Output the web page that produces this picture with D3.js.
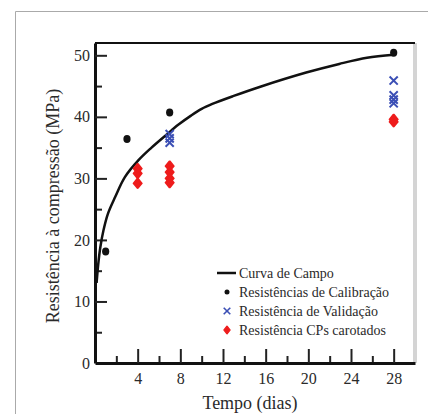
<!DOCTYPE html>
<html>
<head>
<meta charset="utf-8">
<script src="https://cdn.jsdelivr.net/npm/d3@7"></script>
<style>
  body { margin: 0; background: #fff; }
  svg text { font-family: "Liberation Serif", "Times New Roman", Tinos, "Noto Serif", "DejaVu Serif", serif; fill: #2a2a2a; }
</style>
</head>
<body>
<div id="chart"></div>
<script>
// curva de campo
var curveDays = [0.15, 0.3, 0.5, 0.8, 1.2, 1.9, 2.8, 4.1, 5.3, 6.7, 7.8, 9, 10, 11, 13, 15.5, 19.8, 22.9, 25.5, 28];
var curveMPa  = [13, 16, 18.8, 21.6, 24.2, 27, 30.2, 33, 35, 37.1, 38.7, 40.2, 41.3, 42.1, 43.4, 44.9, 47.2, 48.6, 49.6, 50.1];

// resistências de calibração
var calDays = [1, 3, 7, 28];
var calMPa  = [18.1, 36.4, 40.7, 50.4];

// resistências de validação
var valDays = [7, 7, 7, 28, 28, 28, 28];
var valMPa  = [37.2, 36.5, 35.8, 45.9, 43.5, 42.8, 42.2];

// CPs carotados
var corDays = [4, 4, 4, 7, 7, 7, 7, 28, 28];
var corMPa  = [31.6, 30.8, 29.2, 32.0, 31.0, 30.0, 29.3, 39.6, 39.2];

var xTicks = [4, 8, 12, 16, 20, 24, 28];
var yTicks = [0, 10, 20, 30, 40, 50];

var legendLabels = ["Curva de Campo", "Resistências de Calibração", "Resistência de Validação", "Resistência CPs carotados"];

var serif = "'Liberation Serif', 'Times New Roman', Tinos, 'Noto Serif', 'DejaVu Serif', serif";

var W = 428, H = 414;
var margin = {top: 43, right: 13, bottom: 51, left: 95},
    width = W - margin.left - margin.right,
    height = H - margin.top - margin.bottom;

var svg = d3.select("#chart").append("svg")
    .attr("width", W)
    .attr("height", H);

// outer gray frame
svg.append("path")
    .attr("d", "M15.5," + H + "V11.5H" + W)
    .attr("fill", "none")
    .attr("stroke", "#aaa")
    .attr("stroke-width", 1);

var g = svg.append("g")
    .attr("transform", "translate(" + margin.left + "," + margin.top + ")");

var x = d3.scaleLinear().domain([0, 30]).range([0, width]);
var y = d3.scaleLinear().domain([0, 52]).range([height, 0]);

// right border (light) and top border
g.append("line")
    .attr("x1", width).attr("x2", width)
    .attr("y1", 0).attr("y2", height)
    .attr("stroke", "#d4d4d4").attr("stroke-width", 4);
g.append("line")
    .attr("x1", 0).attr("x2", width)
    .attr("y1", 0).attr("y2", 0)
    .attr("stroke", "#111").attr("stroke-width", 2);

// minor ticks
g.append("g")
    .attr("transform", "translate(0," + height + ")")
    .call(d3.axisBottom(x).tickValues(d3.range(2, 30, 4)).tickSize(-7).tickFormat(""))
    .call(a => a.select(".domain").remove())
    .call(a => a.selectAll("line").attr("stroke", "#222").attr("stroke-width", 2));
g.append("g")
    .call(d3.axisLeft(y).tickValues(d3.range(5, 50, 10)).tickSize(-7).tickFormat(""))
    .call(a => a.select(".domain").remove())
    .call(a => a.selectAll("line").attr("stroke", "#222").attr("stroke-width", 2));

// major axes
var xAxis = g.append("g")
    .attr("transform", "translate(0," + height + ")")
    .call(d3.axisBottom(x).tickValues(xTicks).tickSize(-14).tickSizeOuter(0).tickPadding(10));
var yAxis = g.append("g")
    .call(d3.axisLeft(y).tickValues(yTicks).tickSize(-12).tickSizeOuter(0).tickPadding(5));

[xAxis, yAxis].forEach(function(a) {
  a.attr("font-family", null);
  a.select(".domain").attr("stroke", "#111").attr("stroke-width", 3);
  a.selectAll(".tick line").attr("stroke", "#222").attr("stroke-width", 2);
  a.selectAll(".tick text")
    .style("font-size", "16px")
    .style("font-family", serif)
    .attr("fill", "#2a2a2a");
});
yAxis.selectAll(".tick").filter(d => d === 0).select("line").remove();

// field curve
var line = d3.line()
    .x(function(d, i) { return x(curveDays[i]); })
    .y(function(d) { return y(d); })
    .curve(d3.curveCatmullRom.alpha(0.5));

g.append("path")
    .datum(curveMPa)
    .attr("d", line)
    .attr("fill", "none")
    .attr("stroke", "#111")
    .attr("stroke-width", 2.5);

var red = "#ee1c1c", blue = "#3b4fb5";
var diamond = d3.symbol().type(d3.symbolDiamond).size(30);

// CPs carotados
g.selectAll(".cor")
    .data(corMPa)
    .enter().append("path")
    .attr("class", "cor")
    .attr("d", diamond)
    .attr("transform", function(d, i) { return "translate(" + x(corDays[i]) + "," + y(d) + ") scale(1.35,0.95)"; })
    .attr("fill", red)
    .attr("stroke", red)
    .attr("stroke-width", 1.6)
    .attr("stroke-linejoin", "round");

// validação
var cross = d3.symbol().type(d3.symbolX).size(45);
g.selectAll(".val")
    .data(valMPa)
    .enter().append("path")
    .attr("class", "val")
    .attr("d", cross)
    .attr("transform", function(d, i) { return "translate(" + x(valDays[i]) + "," + y(d) + ")"; })
    .attr("fill", "none")
    .attr("stroke", blue)
    .attr("stroke-width", 2);

// calibração
g.selectAll(".cal")
    .data(calMPa)
    .enter().append("ellipse")
    .attr("class", "cal")
    .attr("cx", function(d, i) { return x(calDays[i]); })
    .attr("cy", function(d) { return y(d); })
    .attr("rx", 3.6)
    .attr("ry", 4)
    .attr("fill", "#111");

// legend
var leg = svg.append("g").attr("transform", "translate(217,273)");
var rowH = 19;
leg.append("line")
    .attr("x1", 0).attr("x2", 19).attr("y1", 0).attr("y2", 0)
    .attr("stroke", "#111").attr("stroke-width", 2.5);
leg.append("circle")
    .attr("cx", 10).attr("cy", rowH).attr("r", 2.5).attr("fill", "#111");
leg.append("path")
    .attr("d", d3.symbol().type(d3.symbolX).size(30))
    .attr("transform", "translate(10," + (2 * rowH) + ")")
    .attr("fill", "none").attr("stroke", blue).attr("stroke-width", 1.6);
leg.append("path")
    .attr("d", d3.symbol().type(d3.symbolDiamond).size(20))
    .attr("transform", "translate(10," + (3 * rowH) + ") scale(1.3,0.95)")
    .attr("fill", red).attr("stroke", red).attr("stroke-width", 1).attr("stroke-linejoin", "round");

leg.selectAll("text")
    .data(legendLabels)
    .enter().append("text")
    .attr("x", 22)
    .attr("y", function(d, i) { return i * rowH; })
    .attr("dy", "0.35em")
    .style("font-family", serif)
    .style("font-size", "14px")
    .text(function(d) { return d; });

// axis titles
svg.append("text")
    .attr("x", margin.left + width / 2 - 5)
    .attr("y", 409)
    .attr("text-anchor", "middle")
    .style("font-family", serif)
    .style("font-size", "18px")
    .text("Tempo (dias)");

svg.append("text")
    .attr("transform", "translate(59," + (margin.top + height / 2 + 3) + ") rotate(-90)")
    .attr("text-anchor", "middle")
    .style("font-family", serif)
    .style("font-size", "18px")
    .text("Resistência à compressão (MPa)");
</script>
</body>
</html>
